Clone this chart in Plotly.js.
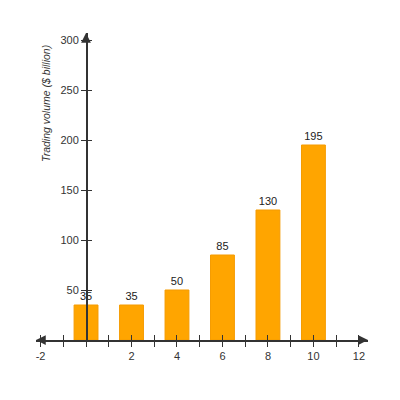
<!DOCTYPE html>
<html>
<head>
<meta charset="utf-8">
<script src="https://cdn.plot.ly/plotly-3.0.1.min.js"></script>
<style>
  html, body { margin: 0; padding: 0; background: #fff; }
  #plot { width: 400px; height: 400px; }
</style>
</head>
<body>
<div id="plot"></div>
<script>
// bars: year offset vs trading volume
var xVals = [0, 2, 4, 6, 8, 10];
var volumes = [35, 35, 50, 85, 130, 195];

// tick marks every unit, labels only on some
var xTickVals = [-2, -1, 0, 1, 2, 3, 4, 5, 6, 7, 8, 9, 10, 11, 12];
var xTickText = ["-2", "", "", "", "2", "", "4", "", "6", "", "8", "", "10", "", "12"];
var yTickVals = [50, 100, 150, 200, 250, 300];

var xRange = [-2.2, 12.4];
var yRange = [0, 307];
var yPos = (0 - xRange[0]) / (xRange[1] - xRange[0]);

var axisColor = "#333";

var bars = {
    x: xVals,
    y: volumes,
    type: 'bar',
    width: 1.05,
    marker: { color: '#FFA500', line: { color: '#F59B00', width: 1 } },
    text: volumes.map(String),
    textposition: 'outside',
    cliponaxis: false,
    textfont: { size: 11, color: '#222' },
    hoverinfo: 'none'
};

// empty-looking trace so the overlaid tick axes get drawn
var tickHolder = {
    x: xVals,
    y: volumes,
    type: 'scatter',
    mode: 'none',
    xaxis: 'x2',
    yaxis: 'y2',
    hoverinfo: 'none'
};

var layout = {
    width: 400,
    height: 400,
    margin: { l: 36, r: 32, t: 33, b: 60 },
    paper_bgcolor: '#fff',
    plot_bgcolor: '#fff',
    showlegend: false,
    font: { family: 'Liberation Sans, Arial, sans-serif', size: 11, color: '#333' },
    xaxis: {
        range: xRange,
        tickmode: 'array',
        tickvals: xTickVals,
        ticktext: xTickText,
        ticks: 'outside',
        ticklen: 5,
        tickcolor: axisColor,
        showline: true,
        linecolor: axisColor,
        linewidth: 1.5,
        showgrid: false,
        zeroline: false,
        fixedrange: true
    },
    xaxis2: {
        range: xRange,
        overlaying: 'x',
        anchor: 'y',
        side: 'bottom',
        tickmode: 'array',
        tickvals: xTickVals,
        showticklabels: false,
        ticks: 'inside',
        ticklen: 5,
        tickcolor: axisColor,
        showgrid: false,
        zeroline: false
    },
    yaxis: {
        range: yRange,
        anchor: 'free',
        position: yPos,
        tickmode: 'array',
        tickvals: yTickVals,
        ticks: 'outside',
        ticklen: 5,
        tickcolor: axisColor,
        showline: true,
        linecolor: axisColor,
        linewidth: 1.5,
        showgrid: false,
        zeroline: false,
        fixedrange: true
    },
    yaxis2: {
        range: yRange,
        overlaying: 'y',
        anchor: 'free',
        position: yPos,
        tickmode: 'array',
        tickvals: yTickVals,
        showticklabels: false,
        ticks: 'inside',
        ticklen: 5,
        tickcolor: axisColor,
        showgrid: false,
        zeroline: false
    },
    annotations: [
        {
            text: '<i>Trading volume ($ billion)</i>',
            xref: 'paper', yref: 'paper',
            x: 0.03, y: 0.772,
            xanchor: 'center', yanchor: 'middle',
            textangle: -90,
            showarrow: false,
            font: { size: 10.5, color: '#333' }
        },
        // arrow heads on the axes
        { x: xRange[1], y: 0, xref: 'x', yref: 'y', ax: -10, ay: 0, text: '',
          showarrow: true, arrowhead: 2, arrowsize: 1.3, arrowwidth: 1.5, arrowcolor: axisColor },
        { x: xRange[0], y: 0, xref: 'x', yref: 'y', ax: 10, ay: 0, text: '',
          showarrow: true, arrowhead: 2, arrowsize: 1.3, arrowwidth: 1.5, arrowcolor: axisColor },
        { x: 0, y: yRange[1], xref: 'x', yref: 'y', ax: 0, ay: 10, text: '',
          showarrow: true, arrowhead: 2, arrowsize: 1.3, arrowwidth: 1.5, arrowcolor: axisColor }
    ]
};

Plotly.newPlot('plot', [bars, tickHolder], layout, { displayModeBar: false, staticPlot: true });
</script>
</body>
</html>
